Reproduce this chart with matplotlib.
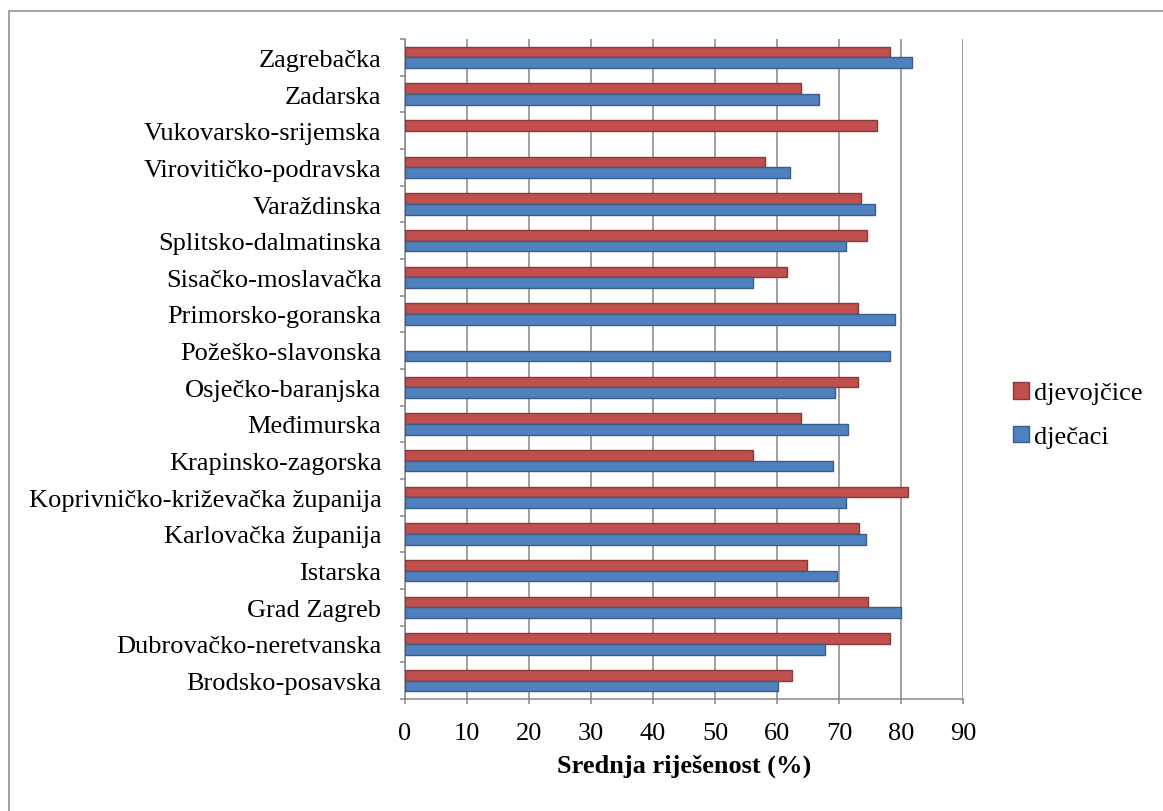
import numpy as np
import matplotlib
matplotlib.use('Agg')
from matplotlib import pyplot as plt
from matplotlib.patches import Rectangle

# data, in display order (top -> bottom)
counties = ['Zagrebačka', 'Zadarska', 'Vukovarsko-srijemska', 'Virovitičko-podravska',
            'Varaždinska', 'Splitsko-dalmatinska', 'Sisačko-moslavačka',
            'Primorsko-goranska', 'Požeško-slavonska', 'Osječko-baranjska',
            'Međimurska', 'Krapinsko-zagorska', 'Koprivničko-križevačka županija',
            'Karlovačka županija', 'Istarska', 'Grad Zagreb',
            'Dubrovačko-neretvanska', 'Brodsko-posavska']
djevojcice = [78.2, 63.8, 76.2, 58.0, 73.6, 74.5, 61.6, 73.0, np.nan,
              73.0, 63.9, 56.1, 81.2, 73.2, 64.8, 74.7, 78.2, 62.4]
djecaci = [81.8, 66.8, np.nan, 62.1, 75.8, 71.1, 56.1, 79.1, 78.2,
           69.4, 71.5, 69.1, 71.1, 74.4, 69.7, 80.0, 67.8, 60.1]
x_ticks = list(range(0, 100, 10))

plt.rcParams['font.family'] = ['Liberation Serif', 'DejaVu Serif']
plt.rcParams['font.size'] = 19

grey = '#868686'
red, red_edge = '#C0504D', '#8C3836'
blue, blue_edge = '#4F81BD', '#385D8A'

fig = plt.figure(figsize=(11.63, 8.12), dpi=100)
ax = fig.add_axes([405 / 1163, 1 - 700 / 812, (963 - 405) / 1163, (700 - 40) / 812])

n = len(counties)
y = np.arange(n)[::-1]
h = 0.29
ax.barh(y + h / 2, djevojcice, height=h, color=red, edgecolor=red_edge, linewidth=1,
        label='djevojčice', zorder=3)
ax.barh(y - h / 2, djecaci, height=h, color=blue, edgecolor=blue_edge, linewidth=1,
        label='dječaci', zorder=3)

ax.set_xlim(0, 90)
ax.set_ylim(-0.5, n - 0.5)
ax.set_xticks(x_ticks)
ax.set_yticks(y)
ax.set_yticklabels(counties)
ax.set_yticks(np.arange(-0.5, n, 1), minor=True)
ax.tick_params(axis='y', which='major', length=0, pad=17)
ax.tick_params(axis='y', which='minor', length=3.6, width=1.1, color=grey, direction='out')
ax.tick_params(axis='x', length=3.6, width=1.1, color=grey, direction='out', pad=13)

ax.set_axisbelow(True)
ax.xaxis.grid(True, color=grey, linewidth=1.1)
for s in ['top', 'right']:
    ax.spines[s].set_visible(False)
for s in ['left', 'bottom']:
    ax.spines[s].set_color(grey)
    ax.spines[s].set_linewidth(1.1)

ax.set_xlabel('Srednja riješenost (%)', fontweight='bold', labelpad=7)

ax.legend(loc='center left', bbox_to_anchor=(1013 / 1163, 1 - 416 / 812),
          bbox_transform=fig.transFigure, frameon=False,
          handlelength=0.6, handleheight=0.6, handletextpad=0.2,
          labelspacing=0.8, borderpad=0, borderaxespad=0)

# outer chart border (only top and left edges fall inside the image)
fig.add_artist(Rectangle((9 / 1163, -0.1), 1.2, 1.1 - 12 / 812, transform=fig.transFigure,
                         fill=False, edgecolor='#888888', linewidth=1.1))

fig.savefig('out.png', dpi=100)
